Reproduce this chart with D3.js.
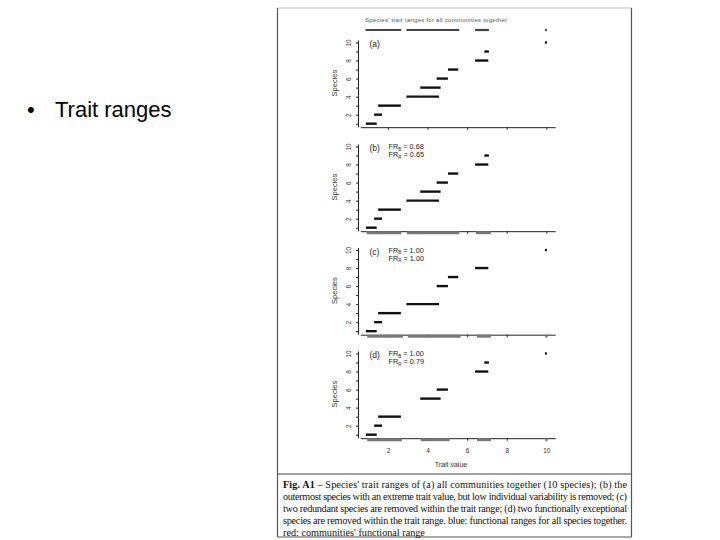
<!DOCTYPE html>
<html>
<head>
<meta charset="utf-8">
<script src="https://cdn.jsdelivr.net/npm/d3@7"></script>
<style>
  body { margin: 0; background: #fff; }
  svg { display: block; }
  .tick line, .domain { stroke: #222; }
</style>
</head>
<body>
<div id="slide"></div>
<script>
// species trait ranges (species 1..10)
var traitMin = [0.88, 1.3, 1.5, 2.93, 3.63, 4.46, 5.03, 6.4, 6.87, 9.93];
var traitMax = [1.43, 1.7, 2.65, 4.58, 4.66, 5.03, 5.55, 7.07, 7.1, 10.03];

// which species stay in each panel
var speciesA = [1, 2, 3, 4, 5, 6, 7, 8, 9, 10];
var speciesB = [1, 2, 3, 4, 5, 6, 7, 8, 9];
var speciesC = [1, 2, 3, 4, 6, 7, 8, 10];
var speciesD = [1, 2, 3, 5, 6, 8, 9, 10];

// functional ranges (min, max)
var rangesAll = [[0.87, 2.67], [2.93, 5.6], [6.4, 7.1], [9.93, 10.03]];
var rangesB = [[0.92, 2.67], [2.95, 5.6], [6.45, 7.2]];
var rangesC = [[0.95, 2.75], [3.0, 5.67], [6.5, 7.2], [9.95, 10.05]];
var rangesD = [[0.95, 2.7], [3.65, 5.12], [6.5, 7.2], [9.95, 10.05]];

var panelLabels = ["(a)", "(b)", "(c)", "(d)"];
var frBlue = [null, "0.68", "1.00", "1.00"];
var frRed = [null, "0.65", "1.00", "0.79"];
var xTicks = [2, 4, 6, 8, 10];
var yTicks = [1, 2, 3, 4, 5, 6, 7, 8, 9, 10];

var captionLines = [
  "– Species' trait ranges of (a) all communities together (10 species); (b) the",
  "outermost species with an extreme trait value, but low individual variability is removed; (c)",
  "two redundant species are removed within the trait range; (d) two functionally exceptional",
  "species are removed within the trait range. blue: functional ranges for all species together.",
  "red: communities' functional range"
];

var width = 720;
var height = 540;

var svg = d3.select("#slide")
  .append("svg")
  .attr("width", width)
  .attr("height", height);

// bullet on the slide
svg.append("text")
  .attr("x", 27)
  .attr("y", 117)
  .attr("font-family", "Liberation Sans, Arial, sans-serif")
  .attr("font-size", 22)
  .attr("fill", "#000")
  .text("•");
svg.append("text")
  .attr("x", 55)
  .attr("y", 117)
  .attr("font-family", "Liberation Sans, Arial, sans-serif")
  .attr("font-size", 22)
  .attr("fill", "#000")
  .text("Trait ranges");

// figure frame
var fx0 = 277.5, fx1 = 631.5, fy0 = 8, fy1 = 537;
svg.append("line").attr("x1", fx0).attr("x2", fx1).attr("y1", fy0).attr("y2", fy0)
  .attr("stroke", "#bbb").attr("stroke-width", 1.2);
svg.append("line").attr("x1", fx0).attr("x2", fx0).attr("y1", fy0).attr("y2", fy1)
  .attr("stroke", "#555").attr("stroke-width", 1.2);
svg.append("line").attr("x1", fx1).attr("x2", fx1).attr("y1", fy0).attr("y2", fy1)
  .attr("stroke", "#555").attr("stroke-width", 1.2);
svg.append("line").attr("x1", fx0).attr("x2", fx1).attr("y1", fy1).attr("y2", fy1)
  .attr("stroke", "#555").attr("stroke-width", 1.2);
svg.append("line").attr("x1", fx0).attr("x2", fx1).attr("y1", 474).attr("y2", 474)
  .attr("stroke", "#444").attr("stroke-width", 1.2);

var xScale = d3.scaleLinear().domain([0.6, 10.45]).range([360.3, 555.2]);

var fontSans = "Liberation Sans, Arial, sans-serif";

// title and community bars over panel (a)
svg.append("text")
  .attr("x", 436)
  .attr("y", 22)
  .attr("text-anchor", "middle")
  .attr("font-family", fontSans)
  .attr("font-size", 6)
  .attr("textLength", 142)
  .attr("fill", "#555")
  .text("Species' trait ranges for all communities together");

svg.selectAll("line.allRange")
  .data(rangesAll)
  .enter()
  .append("line")
  .attr("class", "allRange")
  .attr("x1", function(d) { return xScale(d[0]); })
  .attr("x2", function(d) { return xScale(d[1]); })
  .attr("y1", 30)
  .attr("y2", 30)
  .attr("stroke", "#444")
  .attr("stroke-width", 2.2);

var panels = [
  { top: 42.5, species: speciesA, ranges: null },
  { top: 146.5, species: speciesB, ranges: rangesB },
  { top: 250, species: speciesC, ranges: rangesC },
  { top: 353.5, species: speciesD, ranges: rangesD }
];

panels.forEach(function(p, i) {
  var unit = 9.02;
  var yScale = d3.scaleLinear()
    .domain([1, 10])
    .range([p.top + 9 * unit, p.top]);
  var axisY = p.top + 9 * unit + 3.5;
  var g = svg.append("g");

  // y axis
  var yAxis = d3.axisLeft(yScale)
    .tickValues(yTicks)
    .tickSize(3)
    .tickFormat(function(d) { return d % 2 === 0 ? d : ""; });
  var yg = g.append("g")
    .attr("transform", "translate(359,0)")
    .call(yAxis);
  yg.select(".domain")
    .attr("d", "M-0.5," + (p.top - 2) + "V" + (axisY));
  yg.selectAll("text")
    .attr("transform", "rotate(-90)")
    .attr("x", 0)
    .attr("y", -8.5)
    .attr("dy", 0)
    .attr("text-anchor", "middle")
    .attr("font-family", fontSans)
    .attr("font-size", 6.5)
    .attr("fill", "#333");

  // x axis
  var xAxis = d3.axisBottom(xScale)
    .tickValues(xTicks)
    .tickSize(2.5)
    .tickSizeOuter(0)
    .tickFormat(i === 3 ? d3.format("d") : "");
  var xg = g.append("g")
    .attr("transform", "translate(0," + axisY + ")")
    .call(xAxis);
  xg.selectAll("text")
    .attr("font-family", fontSans)
    .attr("font-size", 6.5)
    .attr("fill", "#333")
    .attr("y", 10);

  // y label
  g.append("text")
    .attr("transform", "translate(336.5," + (p.top + 4.5 * unit) + ")rotate(-90)")
    .attr("text-anchor", "middle")
    .attr("font-family", fontSans)
    .attr("font-size", 7.5)
    .attr("fill", "#333")
    .text("Species");

  // panel label
  g.append("text")
    .attr("x", 369.5)
    .attr("y", p.top + 4.5)
    .attr("font-family", fontSans)
    .attr("font-size", 8.5)
    .attr("fill", "#222")
    .text(panelLabels[i]);

  if (frBlue[i]) {
    var fr1 = g.append("text")
      .attr("x", 388.5)
      .attr("y", p.top + 2.5)
      .attr("font-family", fontSans)
      .attr("font-size", 7.3)
      .attr("fill", "#222");
    fr1.append("tspan").text("FR");
    fr1.append("tspan").attr("font-size", 4.5).attr("dy", 1.5).text("B");
    fr1.append("tspan").attr("dy", -1.5).text(" = " + frBlue[i]);
    var fr2 = g.append("text")
      .attr("x", 388.5)
      .attr("y", p.top + 10.5)
      .attr("font-family", fontSans)
      .attr("font-size", 7.3)
      .attr("fill", "#222");
    fr2.append("tspan").text("FR");
    fr2.append("tspan").attr("font-size", 4.5).attr("dy", 1.5).text("R");
    fr2.append("tspan").attr("dy", -1.5).text(" = " + frRed[i]);
  }

  // species bars
  g.selectAll("line.sp")
    .data(p.species)
    .enter()
    .append("line")
    .attr("class", "sp")
    .attr("x1", function(d) { return xScale(traitMin[d - 1]); })
    .attr("x2", function(d) { return xScale(traitMax[d - 1]); })
    .attr("y1", function(d) { return yScale(d); })
    .attr("y2", function(d) { return yScale(d); })
    .attr("stroke", "#111")
    .attr("stroke-width", 2.4);

  // functional ranges under axis
  if (p.ranges) {
    g.selectAll("line.fr")
      .data(p.ranges)
      .enter()
      .append("line")
      .attr("class", "fr")
      .attr("x1", function(d) { return xScale(d[0]); })
      .attr("x2", function(d) { return xScale(d[1]); })
      .attr("y1", axisY + 1.5)
      .attr("y2", axisY + 1.5)
      .attr("stroke", "#777")
      .attr("stroke-width", 3);
  }

  if (i === 3) {
    g.append("text")
      .attr("x", 451)
      .attr("y", axisY + 29)
      .attr("text-anchor", "middle")
      .attr("font-family", fontSans)
      .attr("font-size", 7)
      .attr("fill", "#333")
      .text("Trait value");
  }
});

// caption
var fontSerif = "Liberation Serif, Times New Roman, serif";
captionLines.forEach(function(line, i) {
  var t = svg.append("text")
    .attr("x", 283)
    .attr("y", 488 + i * 12)
    .attr("font-family", fontSerif)
    .attr("font-size", 10.2)
    .attr("fill", "#111");
  if (i === 0) {
    t.append("tspan").attr("font-weight", "bold").text("Fig. A1 ");
    t.append("tspan").text(line);
  } else {
    t.text(line);
  }
  if (i < captionLines.length - 1) {
    t.attr("textLength", 344).attr("lengthAdjust", "spacing");
  }
});
</script>
</body>
</html>
